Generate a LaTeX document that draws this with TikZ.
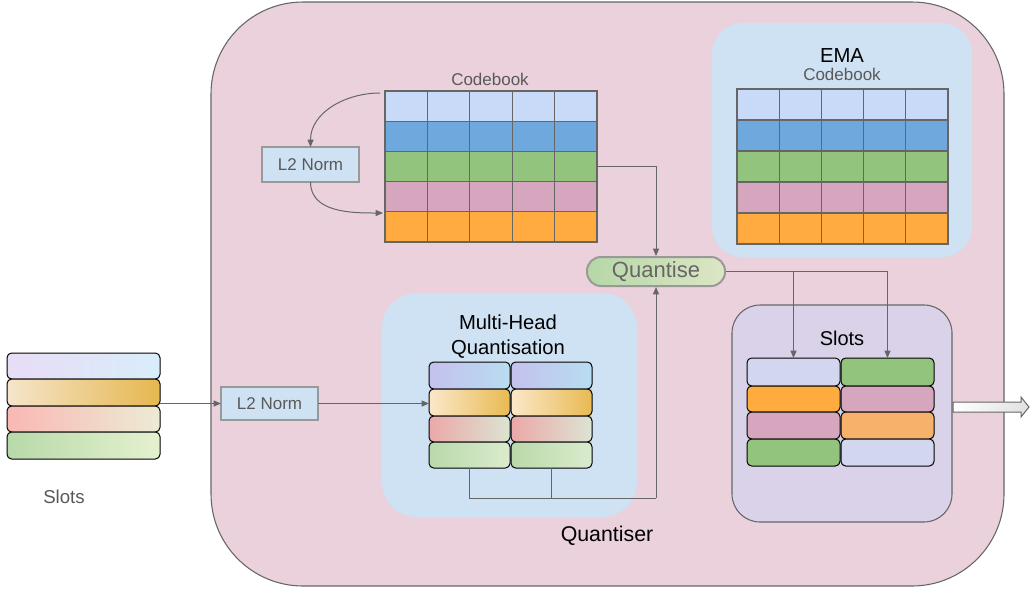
\documentclass[tikz,border=0pt]{standalone}
\usepackage{fontspec}
\setmainfont{Liberation Sans}
\usetikzlibrary{calc,arrows.meta}

\definecolor{pinkbg}{HTML}{EAD1DC}
\definecolor{bluebox}{HTML}{CFE2F3}
\definecolor{lavbox}{HTML}{D9D2E9}
\definecolor{cbA}{HTML}{C9DAF8}
\definecolor{cbB}{HTML}{6FA8DC}
\definecolor{cbC}{HTML}{93C47D}
\definecolor{cbD}{HTML}{D5A6BD}
\definecolor{cbE}{HTML}{FFAB40}
\definecolor{slotlav}{HTML}{D2D6EF}
\definecolor{lorange}{HTML}{F6B26B}
\definecolor{edgegray}{HTML}{666666}
\definecolor{txtgray}{HTML}{595959}
\definecolor{qtxt}{HTML}{666666}
\definecolor{normedge}{HTML}{999999}
% gradient end colours of the slot rows
\definecolor{gAa}{HTML}{E8DCF6}\definecolor{gAb}{HTML}{D8EDF9}
\definecolor{gBa}{HTML}{F5E5CB}\definecolor{gBb}{HTML}{E6B74F}
\definecolor{gCa}{HTML}{F9B8B4}\definecolor{gCb}{HTML}{ECEBD3}
\definecolor{gDa}{HTML}{B8D9A9}\definecolor{gDb}{HTML}{E4F1CF}
\definecolor{hAa}{HTML}{C4C1EE}\definecolor{hAb}{HTML}{B8DCF0}
\definecolor{hBa}{HTML}{FBE8C9}\definecolor{hBb}{HTML}{E8BA52}
\definecolor{hCa}{HTML}{EBA8A8}\definecolor{hCb}{HTML}{DCE4D2}
\definecolor{hDa}{HTML}{B9D9AA}\definecolor{hDb}{HTML}{DAEBCD}
\definecolor{qa}{HTML}{B6D7A8}\definecolor{qb}{HTML}{DCE6C4}

% node spanning the box (x1,y1)-(x2,y2), coordinates in pixels
\newcommand\boxat[6]{\node[#2, minimum width={(#5-#3)*0.75pt}, minimum height={(#6-#4)*0.75pt}] (#1) at ({(#3+#5)/2},{(#4+#6)/2}) {};}

\tikzset{
  panel/.style={draw=edgegray, line width=0.8pt, inner sep=0pt, outer sep=0pt},
  cell/.style={draw=edgegray, line width=0.9pt, inner sep=0pt, outer sep=0pt},
  bar/.style={draw=black, line width=0.75pt, rounded corners=3.5pt, inner sep=0pt, outer sep=0pt},
  normbox/.style={draw=normedge, line width=1.5pt, fill=bluebox, inner sep=0pt, outer sep=0pt,
    text=txtgray, font=\fontsize{12.75}{15}\selectfont},
  link/.style={draw=edgegray, line width=0.75pt},
  arr/.style={link, -{Triangle[length=5.5pt,width=4.5pt]}},
  lbl/.style={inner sep=0pt, outer sep=0pt, align=center},
}

\begin{document}
\begin{tikzpicture}[x=0.75pt, y=-0.75pt]
\useasboundingbox (0,0) rectangle (1030,590);

% Quantiser panel and its inner groups
\boxat{qpanel}{panel, fill=pinkbg, rounded corners=69pt}{211}{2}{1004}{586}
\boxat{emapanel}{fill=bluebox, rounded corners=23pt, inner sep=0pt}{712}{23}{972}{257}
\boxat{mhpanel}{fill=bluebox, rounded corners=26pt, inner sep=0pt}{382}{293}{637}{517}
\boxat{slotpanel}{panel, fill=lavbox, rounded corners=21pt}{732}{305}{952}{522}

% Codebook grid
\foreach \r/\col in {0/cbA,1/cbB,2/cbC,3/cbD,4/cbE}
  \foreach \c in {0,...,4}
    \node[cell, fill=\col, minimum width={42.4*0.75pt}, minimum height={30.2*0.75pt}]
      (cb-\r-\c) at ({385+42.4*(\c+0.5)},{91+30.2*(\r+0.5)}) {};

% EMA codebook grid
\foreach \r/\col in {0/cbA,1/cbB,2/cbC,3/cbD,4/cbE}
  \foreach \c in {0,...,4}
    \node[cell, fill=\col, minimum width={42.2*0.75pt}, minimum height={31*0.75pt}]
      (ema-\r-\c) at ({737+42.2*(\c+0.5)},{89+31*(\r+0.5)}) {};

% Input slots
\boxat{sL0}{bar, left color=gAa, right color=gAb}{7}{353}{160}{379}
\boxat{sL1}{bar, left color=gBa, right color=gBb}{7}{379}{160}{406}
\boxat{sL2}{bar, left color=gCa, right color=gCb}{7}{406}{160}{432}
\boxat{sL3}{bar, left color=gDa, right color=gDb}{7}{432}{160}{459}

% Multi-head split slots
\foreach \c/\xa/\xb in {0/429/510, 1/511/592}{
  \boxat{mh-0-\c}{bar, left color=hAa, right color=hAb}{\xa}{362}{\xb}{389}
  \boxat{mh-1-\c}{bar, left color=hBa, right color=hBb}{\xa}{389}{\xb}{416}
  \boxat{mh-2-\c}{bar, left color=hCa, right color=hCb}{\xa}{416}{\xb}{442}
  \boxat{mh-3-\c}{bar, left color=hDa, right color=hDb}{\xa}{442}{\xb}{468}
}

% Quantised output slots
\boxat{sr-0-0}{bar, fill=slotlav}{747}{358}{840}{386}
\boxat{sr-1-0}{bar, fill=cbE}{747}{386}{840}{412}
\boxat{sr-2-0}{bar, fill=cbD}{747}{412}{840}{439}
\boxat{sr-3-0}{bar, fill=cbC}{747}{439}{840}{466}
\boxat{sr-0-1}{bar, fill=cbC}{841}{358}{934}{386}
\boxat{sr-1-1}{bar, fill=cbD}{841}{386}{934}{412}
\boxat{sr-2-1}{bar, fill=lorange}{841}{412}{934}{439}
\boxat{sr-3-1}{bar, fill=slotlav}{841}{439}{934}{466}

% L2 norm boxes
\node[normbox, minimum width={97*0.75pt}, minimum height={35*0.75pt}] (norm1) at (310.5,164.5) {L2 Norm};
\node[normbox, minimum width={97*0.75pt}, minimum height={33*0.75pt}] (norm2) at (269.5,403.5) {L2 Norm};

% Quantise operation
\node[draw=normedge, line width=1.5pt, rounded corners=10.5pt, left color=qa, right color=qb,
  minimum width={138*0.75pt}, minimum height={29*0.75pt},
  inner sep=0pt, text=qtxt, font=\fontsize{16.5}{19}\selectfont]
  (quant) at (656,271.5) {Quantise};

% Labels
\node[lbl, text=txtgray, font=\fontsize{12.75}{15}\selectfont] (cblbl) at (490,79) {Codebook};
\node[lbl, font=\fontsize{15.2}{18}\selectfont] (emalbl) at (842,56) {EMA};
\node[lbl, text=txtgray, font=\fontsize{12.75}{15}\selectfont] (emacb) at (842,74) {Codebook};
\node[lbl, font=\fontsize{15.2}{18.75}\selectfont] (mhlbl) at (508,337) {Multi-Head\\Quantisation};
\node[lbl, font=\fontsize{15}{18}\selectfont] (srlbl) at (842,338) {Slots};
\node[lbl, text=txtgray, font=\fontsize{14}{17}\selectfont] (sllbl) at (64,497) {Slots};
\node[lbl, font=\fontsize{16}{19}\selectfont] (qlbl) at (607,536) {Quantiser};

% Connectors
\coordinate (cbtap) at (380,93);
\coordinate (cbback) at (383,213);
\coordinate (mhjoin) at (656,498);
\draw[arr] (cbtap) to[out=180, in=90] (norm1.north);
\draw[arr] (norm1.south) to[out=-90, in=180] (cbback);
\draw[arr] (cb-2-4.east) -| (quant.north);
\draw[arr] (norm2.west -| sL1.east) -- (norm2.west);
\draw[arr] (norm2.east) -- (norm2.east -| mh-1-0.west);
\draw[link] (mh-3-0.south) |- (mhjoin);
\draw[link] (mh-3-1.south) |- (mhjoin);
\draw[arr] (mhjoin) -- (quant.south);
\draw[arr] (quant.east) -| (sr-0-1.north);
\draw[arr] (quant.east -| sr-0-0.north) -- (sr-0-0.north);

% Output arrow
\draw[draw=edgegray, line width=0.75pt, left color=white, right color=black!12]
  (953,402) -- (1021,402) -- (1021,397) -- (1029,407) -- (1021,417) -- (1021,412) -- (953,412) -- cycle;
\end{tikzpicture}
\end{document}
